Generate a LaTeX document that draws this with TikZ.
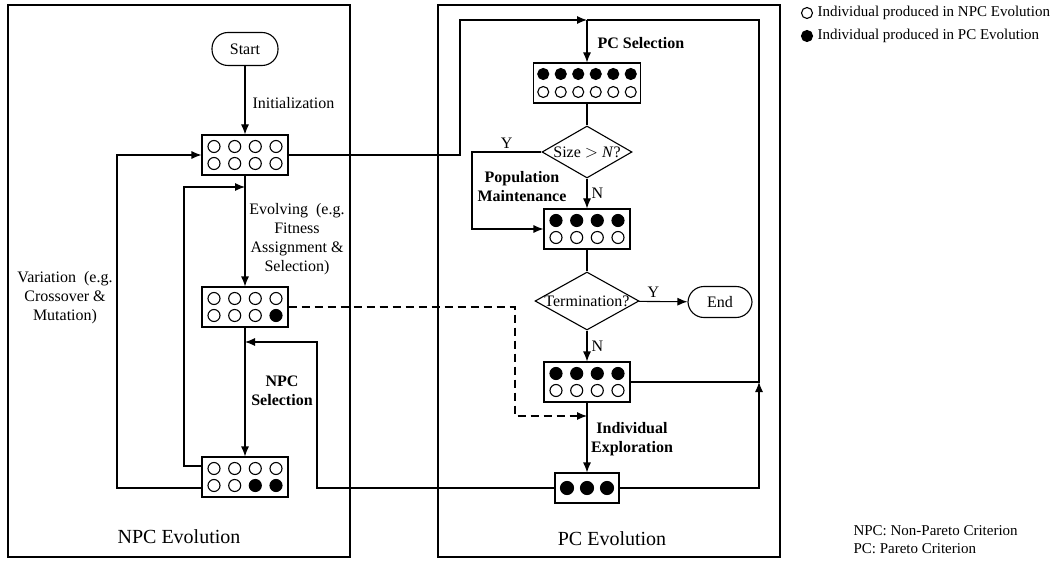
\documentclass[tikz,border=0pt]{standalone}
\usepackage{fontspec}
\setmainfont{Liberation Serif}
\usetikzlibrary{arrows.meta,shapes.geometric}

\tikzset{
    every path/.style={line width=1.1pt},
    arr/.style={-{Latex[length=10pt,width=8pt]}},
    frame/.style={draw, minimum width=342, minimum height=552},
    pop/.style={draw, fill=white, minimum width=86, minimum height=40},
    term/.style={draw, rounded corners=16, minimum width=66, minimum height=33},
    dia/.style={draw, diamond, inner sep=0pt},
    lbl/.style={inner sep=1pt, font=\fontsize{16}{19}\selectfont, align=center},
    blbl/.style={lbl, font=\fontsize{16}{19}\selectfont\bfseries},
    title/.style={font=\fontsize{20}{24}\selectfont},
    note/.style={inner sep=0pt, anchor=west, font=\fontsize{15}{18}\selectfont}
}

\begin{document}
\begin{tikzpicture}[x=1pt,y=-1pt]
                        \useasboundingbox (0,0) rectangle (1055,564);
                        % the two stages
                        \node[frame] (npcbox) at (179,281) {};
                        \node[frame] (pcbox) at (609,281) {};
                        \node[title] (npctitle) at (179,537) {NPC Evolution};
                        \node[title] (pctitle) at (612,539) {PC Evolution};

                        % NPC evolution
                        \node[term] (start) at (245,49) {\fontsize{16}{19}\selectfont Start};
                        \node[pop] (popA) at (245,155) {};
                        \node[pop] (popB) at (245,307) {};
                        \node[pop] (popC) at (245,477) {};
                        \foreach \x/\c in {-31/white,-10.3/white,10.3/white,31/white}
                            \draw[fill=\c] ([shift={(\x,-8.5)}]popA.center) circle (6);
                        \foreach \x/\c in {-31/white,-10.3/white,10.3/white,31/white}
                            \draw[fill=\c] ([shift={(\x,8.5)}]popA.center) circle (6);
                        \foreach \x/\c in {-31/white,-10.3/white,10.3/white,31/white}
                            \draw[fill=\c] ([shift={(\x,-8.5)}]popB.center) circle (6);
                        \foreach \x/\c in {-31/white,-10.3/white,10.3/white,31/black}
                            \draw[fill=\c] ([shift={(\x,8.5)}]popB.center) circle (6);
                        \foreach \x/\c in {-31/white,-10.3/white,10.3/white,31/white}
                            \draw[fill=\c] ([shift={(\x,-8.5)}]popC.center) circle (6);
                        \foreach \x/\c in {-31/white,-10.3/white,10.3/black,31/black}
                            \draw[fill=\c] ([shift={(\x,8.5)}]popC.center) circle (6);

                        \coordinate (loopA) at (117,300);
                        \coordinate (loopB) at (184,300);
                        \coordinate (evIn) at (245,187);
                        \coordinate (selIn) at (245,342);
                        \coordinate (backX) at (317,400);

                        \draw[arr] (start) -- (popA);
                        \draw[arr] (popA) -- (popB);
                        \draw[arr] (popB) -- (popC);
                        \draw[arr] ([yshift=-11pt]popC.west) -| (loopA) |- (popA.west);
                        \draw[arr] ([yshift=11pt]popC.west) -| (loopB) |- (evIn);

                        \node[lbl, anchor=west] (initlbl) at (251,103) {Initialization};
                        \node[lbl] (evlbl) at (297,239) {Evolving\ \ (e.g.\\Fitness\\Assignment \&\\Selection)};
                        \node[lbl] (varlbl) at (65,298) {Variation\ \ (e.g.\\Crossover \&\\Mutation)};
                        \node[blbl] (npcsel) at (282,391) {NPC\\Selection};

                        % PC evolution
                        \node[pop, minimum width=107] (pcA) at (587,83) {};
                        \node[dia, minimum width=90, minimum height=52] (sizeq) at (587,152) {};
                        \node[lbl] at (sizeq) {Size $>$ \textit{N}?};
                        \node[pop] (pcB) at (587,229) {};
                        \node[dia, minimum width=104, minimum height=58] (termq) at (587,301) {};
                        \node[lbl] at (termq) {Termination?};
                        \node[term, minimum width=64, minimum height=31] (endn) at (720,302) {\fontsize{16}{19}\selectfont End};
                        \node[pop] (pcC) at (587,382) {};
                        \node[pop, minimum width=64, minimum height=30] (pcD) at (587,488) {};
                        \foreach \x in {-43.75,-26.25,-8.75,8.75,26.25,43.75} {
                            \draw[fill=black] ([shift={(\x,-9)}]pcA.center) circle (5.5);
                            \draw[fill=white] ([shift={(\x,9)}]pcA.center) circle (5.5);
                        }
                        \foreach \x in {-31,-10.3,10.3,31} {
                            \draw[fill=black] ([shift={(\x,-8.5)}]pcB.center) circle (6);
                            \draw[fill=white] ([shift={(\x,8.5)}]pcB.center) circle (6);
                            \draw[fill=black] ([shift={(\x,-8.5)}]pcC.center) circle (6);
                            \draw[fill=white] ([shift={(\x,8.5)}]pcC.center) circle (6);
                        }
                        \foreach \x in {-20,0,20}
                            \draw[fill=black] ([shift={(\x,0)}]pcD.center) circle (6.5);

                        \coordinate (join) at (587,20);
                        \coordinate (upX) at (460,100);
                        \coordinate (rightX) at (759,200);
                        \coordinate (yesX) at (472,200);
                        \coordinate (dashX) at (515,360);
                        \coordinate (dashIn) at (587,416);

                        \draw[arr] (popA.east) -| (upX) |- (join);
                        \draw (pcC.east) -| (rightX) |- (join);
                        \draw[arr] (join) -- (pcA);
                        \draw (pcA) -- (sizeq);
                        \draw[arr] (sizeq) -- node[lbl, right=3pt] {N} (pcB);
                        \draw[arr] (sizeq.west) -| node[lbl, pos=0.25, above=2pt] {Y} (yesX) |- (pcB.west);
                        \draw (pcB) -- (termq);
                        \draw[arr] (termq) -- node[lbl, pos=0.3, above=2pt] {Y} (endn);
                        \draw[arr] (termq) -- node[lbl, right=3pt] {N} (pcC);
                        \draw[arr] (pcC) -- (pcD);
                        \draw[arr] (pcD.east) -| (rightX |- pcC.east);
                        \draw[arr] (pcD.west) -| (backX) |- (selIn);
                        \draw[arr, dashed, dash pattern=on 8pt off 5pt] (popB.east) -| (dashX) |- (dashIn);

                        \node[blbl, anchor=west] (pcsel) at (596,43) {PC Selection};
                        \node[blbl] (maint) at (522,187) {Population\\Maintenance};
                        \node[blbl] (explr) at (632,439) {Individual\\Exploration};

                        % legend
                        \draw[fill=white] (807,13) circle (5.5);
                        \draw[fill=black] (807,36) circle (5.5);
                        \node[note] (lgA) at (817,13) {Individual produced in NPC Evolution};
                        \node[note] (lgB) at (817,36) {Individual produced in PC Evolution};
                        \node[note] (abA) at (853,531) {NPC: Non-Pareto Criterion};
                        \node[note] (abB) at (853,549) {PC: Pareto Criterion};
                    \end{tikzpicture}
\end{document}
